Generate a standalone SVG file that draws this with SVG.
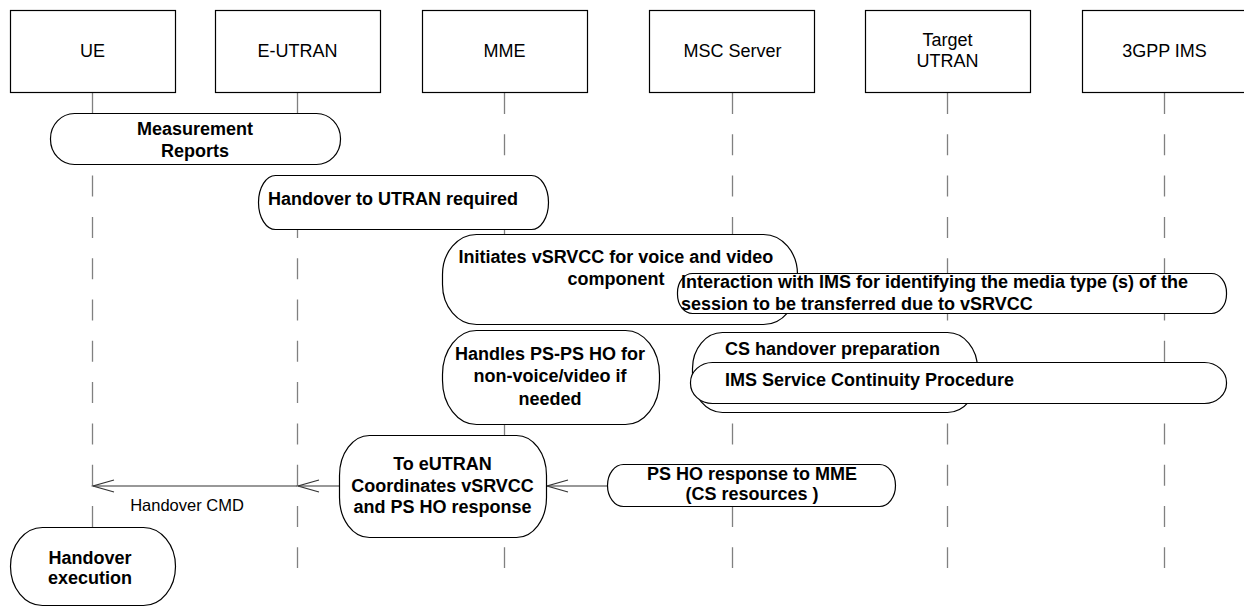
<svg xmlns="http://www.w3.org/2000/svg" width="1244" height="607" viewBox="0 0 1244 607">
<style>
.hdr{fill:#fff;stroke:#000;stroke-width:1.2}
.blob{fill:#fff;stroke:#000;stroke-width:1.2}
.life{stroke:#808080;stroke-width:1.3;stroke-dasharray:21 20.3;fill:none}
.msg{stroke:#333;stroke-width:1.2;fill:none}
.ht{font-family:"Liberation Sans",Arial,sans-serif;font-size:18px;fill:#000;text-anchor:middle}
.bt{font-family:"Liberation Sans",Arial,sans-serif;font-size:18px;font-weight:bold;fill:#000;text-anchor:middle}
.bl{font-family:"Liberation Sans",Arial,sans-serif;font-size:18px;font-weight:bold;fill:#000}
.lt{font-family:"Liberation Sans",Arial,sans-serif;font-size:16.5px;fill:#000;text-anchor:middle}
</style>
<defs>
<marker id="open" markerUnits="userSpaceOnUse" markerWidth="26" markerHeight="16" refX="22" refY="7" orient="auto" viewBox="0 0 26 14">
<path d="M1 1 L22 7 L1 13" fill="none" stroke="#333" stroke-width="1.2"/>
</marker>
</defs>
<g id="lifelines">
<line class="life" x1="92.5" y1="93" x2="92.5" y2="568"/>
<line class="life" x1="297.5" y1="93" x2="297.5" y2="568"/>
<line class="life" x1="504.5" y1="93" x2="504.5" y2="568"/>
<line class="life" x1="732.5" y1="93" x2="732.5" y2="568"/>
<line class="life" x1="947.5" y1="93" x2="947.5" y2="568"/>
<line class="life" x1="1164.5" y1="93" x2="1164.5" y2="568"/>
</g>
<g id="connectors">
<line class="msg" x1="607" y1="486" x2="547" y2="486" marker-end="url(#open)"/>
<line class="msg" x1="339" y1="486" x2="298" y2="486" marker-end="url(#open)"/>
<line class="msg" x1="297" y1="486" x2="93" y2="486" marker-end="url(#open)"/>
<text class="lt" x="187" y="511">Handover CMD</text>
</g>
<g id="node-ue"><rect class="hdr" x="10.5" y="10.5" width="165" height="82"/><text class="ht" x="92.5" y="57">UE</text></g>
<g id="node-eutran"><rect class="hdr" x="215.5" y="10.5" width="165" height="82"/><text class="ht" x="297.5" y="57">E-UTRAN</text></g>
<g id="node-mme"><rect class="hdr" x="422.5" y="10.5" width="165" height="82"/><text class="ht" x="504.5" y="57">MME</text></g>
<g id="node-msc"><rect class="hdr" x="649.5" y="10.5" width="165" height="82"/><text class="ht" x="732.5" y="57">MSC Server</text></g>
<g id="node-target"><rect class="hdr" x="865.5" y="10.5" width="165" height="82"/><text class="ht" x="947.5" y="45.5">Target</text><text class="ht" x="947.5" y="66.5">UTRAN</text></g>
<g id="node-ims"><rect class="hdr" x="1082.5" y="10.5" width="165" height="82"/><text class="ht" x="1164.5" y="57">3GPP IMS</text></g>

<g id="step-measurement"><rect class="blob" x="50.5" y="113.5" width="290" height="51" rx="24" ry="25"/><text class="bt" x="195" y="134.5">Measurement</text><text class="bt" x="195" y="156.5">Reports</text></g>
<g id="step-ho-required"><rect class="blob" x="258.5" y="175.5" width="290" height="54" rx="17" ry="27"/><text class="bt" x="393" y="204.5">Handover to UTRAN required</text></g>
<g id="step-initiates"><rect class="blob" x="442.5" y="234.5" width="355" height="90" rx="34" ry="40"/><text class="bt" x="616" y="262.5">Initiates  vSRVCC for voice and video</text><text class="bt" x="616" y="284.5">component</text></g>
<g id="step-interaction"><rect class="blob" x="677.5" y="273.5" width="549" height="40" rx="15" ry="19"/><text class="bl" x="681" y="288">Interaction with IMS for identifying the media type (s) of the</text><text class="bl" x="681" y="309.5">session to be transferred due to vSRVCC</text></g>
<g id="step-handles"><rect class="blob" x="442.5" y="330.5" width="217" height="94" rx="34" ry="44"/><text class="bt" x="550" y="359.5">Handles PS-PS HO for</text><text class="bt" x="550" y="381.5">non-voice/video if</text><text class="bt" x="550" y="404.5">needed</text></g>
<g id="step-cs-prep"><rect class="blob" x="692.5" y="332.5" width="285" height="80" rx="30" ry="36"/><text class="bl" x="725" y="354.5">CS handover preparation</text></g>
<g id="step-ims-sc"><rect class="blob" x="690.5" y="362.5" width="536" height="41" rx="22" ry="20"/><text class="bl" x="725" y="385.5">IMS Service Continuity Procedure</text></g>
<g id="step-coordinates"><rect class="blob" x="339.5" y="435.5" width="207" height="102" rx="30" ry="40"/><text class="bt" x="442.5" y="469.5">To eUTRAN</text><text class="bt" x="442.5" y="491.5">Coordinates vSRVCC</text><text class="bt" x="442.5" y="512.5">and PS HO response</text></g>
<g id="step-ps-ho-resp"><rect class="blob" x="607.5" y="464.5" width="288" height="42" rx="16" ry="21"/><text class="bt" x="752" y="479.5">PS HO response to MME</text><text class="bt" x="752" y="499.5">(CS resources )</text></g>
<g id="step-ho-exec"><rect class="blob" x="10.5" y="527.5" width="165" height="78" rx="32" ry="39"/><text class="bt" x="90" y="563.5">Handover</text><text class="bt" x="90" y="583.5">execution</text></g>
</svg>
